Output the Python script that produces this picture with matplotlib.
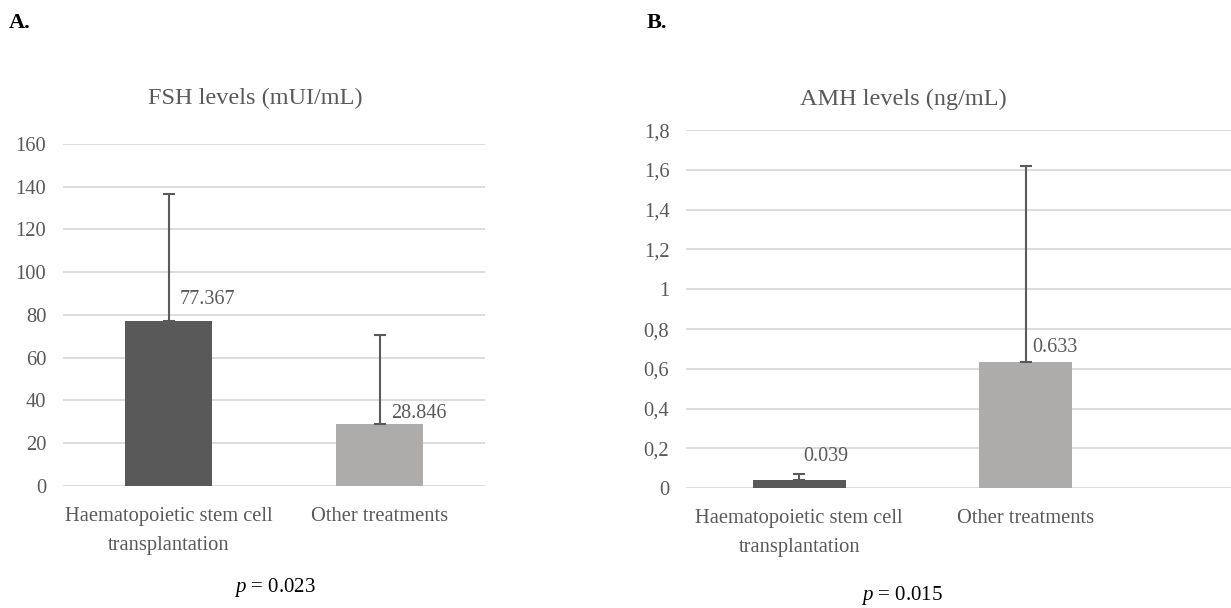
import matplotlib
matplotlib.use("Agg")

import matplotlib.pyplot as plt

# data
categories = ["Haematopoietic stem cell\ntransplantation", "Other treatments"]
fsh_means = [77.367, 28.846]
fsh_errors = [59.3, 42.0]
amh_means = [0.039, 0.633]
amh_errors = [0.030, 0.985]
fsh_ticks = [0, 20, 40, 60, 80, 100, 120, 140, 160]
amh_ticks = [0, 0.2, 0.4, 0.6, 0.8, 1.0, 1.2, 1.4, 1.6, 1.8]
amh_tick_labels = ["0", "0,2", "0,4", "0,6", "0,8", "1", "1,2", "1,4", "1,6", "1,8"]
fsh_label_text = ["77.367", "28.846"]
amh_label_text = ["0.039", "0.633"]

BAR_COLORS = ["#595959", "#AEABAB"]
TEXT = "#595959"
GRID = "#D9D9D9"

plt.rcParams["font.family"] = ["Liberation Serif", "DejaVu Serif"]
plt.rcParams["mathtext.fontset"] = "custom"
plt.rcParams["mathtext.it"] = "Liberation Serif:italic"
plt.rcParams["mathtext.rm"] = "Liberation Serif"

fig = plt.figure(figsize=(12.31, 6.08), dpi=100)
ax_a = fig.add_axes([0.0512, 0.2007, 0.3428, 0.5625])
ax_b = fig.add_axes([0.5573, 0.197, 0.4427, 0.589])


def draw_panel(ax, means, errors, ticks, tick_labels, xlim, label_text, label_offsets):
    x = list(range(len(means)))
    ax.bar(x, means, width=0.41, color=BAR_COLORS, zorder=2)
    ax.errorbar(x, means, yerr=[[0] * len(errors), errors], fmt="none",
                ecolor="#5A5A5A", elinewidth=1.5, capsize=4.3, capthick=1.5, zorder=3)
    for xi, m, txt, off in zip(x, means, label_text, label_offsets):
        ax.annotate(txt, (xi, m), xytext=off, textcoords="offset points",
                    ha="center", va="center", fontsize=14.5, color=TEXT, zorder=4)
    ax.set_ylim(ticks[0], ticks[-1])
    ax.set_xlim(*xlim)
    ax.set_yticks(ticks)
    ax.set_yticklabels(tick_labels)
    ax.set_xticks(x)
    ax.set_xticklabels(categories, linespacing=1.7)
    ax.yaxis.grid(True, color=GRID, linewidth=1.3, zorder=0)
    ax.set_axisbelow(True)
    for s in ax.spines.values():
        s.set_visible(False)
    ax.tick_params(axis="both", length=0, labelsize=14.8, labelcolor=TEXT)
    ax.tick_params(axis="y", pad=12)
    ax.tick_params(axis="x", pad=15)


draw_panel(ax_a, fsh_means, fsh_errors, fsh_ticks, [str(t) for t in fsh_ticks],
           (-0.5, 1.5), fsh_label_text, [(28, 15), (28, 8)])
draw_panel(ax_b, amh_means, amh_errors, amh_ticks, amh_tick_labels,
           (-0.5, 1.906), amh_label_text, [(19, 17), (21, 11)])

fig.text(0.207, 0.838, "FSH levels (mUI/mL)", ha="center", va="center", fontsize=17.5, color=TEXT)
fig.text(0.734, 0.836, "AMH levels (ng/mL)", ha="center", va="center", fontsize=17.5, color=TEXT)
fig.text(0.007, 0.962, "A.", ha="left", va="center", fontsize=16, fontweight="bold", color="black")
fig.text(0.525, 0.962, "B.", ha="left", va="center", fontsize=16, fontweight="bold", color="black")
fig.text(0.223, 0.033, r"$\mathit{p}$ = 0.023", ha="center", va="center", fontsize=15, color="black")
fig.text(0.733, 0.021, r"$\mathit{p}$ = 0.015", ha="center", va="center", fontsize=15, color="black")

fig.savefig("out.png", dpi=100)
